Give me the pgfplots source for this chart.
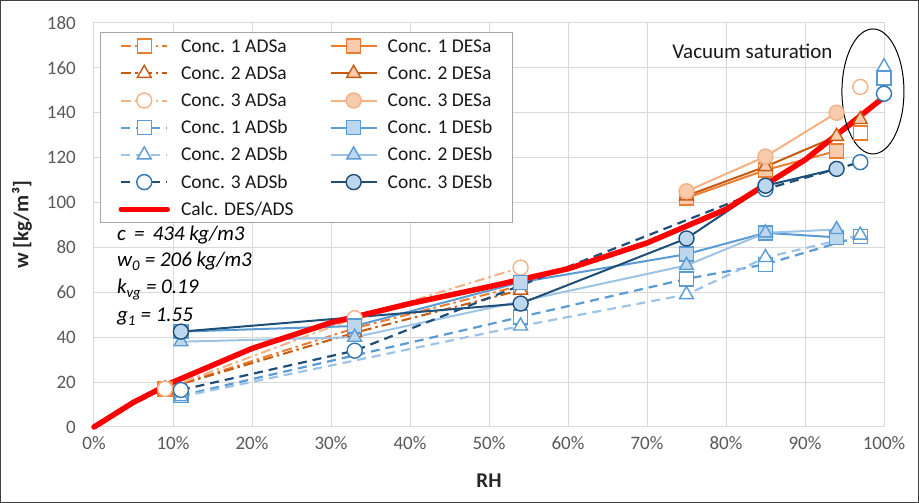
\documentclass[border=0pt]{standalone}
\usepackage{pgfplots}
\pgfplotsset{compat=1.18}
\usepackage{fontspec}
\setmainfont{Carlito}

% series colours
\definecolor{orA}{HTML}{ED7D31}
\definecolor{orB}{HTML}{C55A11}
\definecolor{orC}{HTML}{F4B183}
\definecolor{peach}{HTML}{F8CBAD}
\definecolor{blA}{HTML}{5B9BD5}
\definecolor{blB}{HTML}{9DC3E6}
\definecolor{blC}{HTML}{2E75B6}
\definecolor{navy}{HTML}{1F4E79}
\definecolor{bfill}{HTML}{BDD7EE}
\definecolor{gridgray}{HTML}{D9D9D9}
\definecolor{tickgray}{HTML}{595959}
\definecolor{legendgray}{HTML}{A6A6A6}

\pgfplotsset{
  adsa/.style={line width=2pt, dash pattern=on 10pt off 4pt on 2.5pt off 4pt},
  adsb/.style={line width=2.2pt, dash pattern=on 9pt off 6pt},
  des/.style={line width=2pt},
  sq/.style={mark=square*, mark size=7pt},
  tri/.style={mark=triangle*, mark size=8pt},
  circ/.style={mark=*, mark size=7.5pt},
}

\begin{document}
\begin{tikzpicture}[x=1pt,y=1pt]
\useasboundingbox (0,0) rectangle (919,503);
\begin{axis}[
  at={(94pt,76pt)}, anchor=south west,
  scale only axis, width=790pt, height=404pt,
  xmin=0, xmax=100, ymin=0, ymax=180,
  xtick={0,10,...,100}, ytick={0,20,...,180},
  xticklabels={0\%,10\%,20\%,30\%,40\%,50\%,60\%,70\%,80\%,90\%,100\%},
  /pgf/number format/assume math mode=true,
  grid=major, major grid style={draw=gridgray, line width=1pt},
  axis line style={draw=gridgray, line width=1pt},
  tick style={draw=none},
  tick label style={font=\fontsize{19}{22}\selectfont, text=tickgray},
  yticklabel style={anchor=east, inner sep=0pt, xshift=-18pt},
  xticklabel style={anchor=north, inner sep=0pt, yshift=-9pt},
  xlabel={RH}, ylabel={w [kg/m³]},
  label style={font=\fontsize{21}{24}\selectfont\bfseries, text=black!85},
  xlabel style={at={(axis description cs:0.5,-0.134)}, anchor=center},
  ylabel style={at={(axis description cs:-0.091,0.5)}, anchor=center},
  clip=false, unbounded coords=jump,
  legend columns=2, legend cell align=left,
  legend image code/.code={%
    \draw[mark repeat=2, mark phase=2, #1]
      plot coordinates {(0pt,0pt) (23pt,0pt) (46pt,0pt)};},
  legend style={
    at={(axis description cs:0.0076,0.9777)}, anchor=north west,
    draw=legendgray, line width=1pt, fill=white,
    font=\fontsize{19.5}{24}\selectfont, text=black!90,
    inner xsep=18pt, inner ysep=0pt, row sep=0pt,
    nodes={inner xsep=2pt, inner ysep=2pt, text height=17.5pt, text depth=5.7pt},
    /tikz/column 1/.style={column sep=9pt},
    /tikz/column 2/.style={column sep=34pt},
    /tikz/column 3/.style={column sep=8pt},
    /tikz/column 4/.style={column sep=-14pt},
  },
]
% adsorption (a) and desorption (a), three concentrations
\addplot[adsa, color=orA, sq, mark options={solid, fill=white, line width=1.4pt}]
  coordinates {(9,17) (33,44) (54,63) (97,nan) (97,131)};
\addlegendentry{Conc. 1 ADSa}
\addplot[des, color=orA, sq, mark options={fill=peach, line width=1.4pt}]
  coordinates {(75,102) (85,114.5) (94,123)};
\addlegendentry{Conc. 1 DESa}
\addplot[adsa, color=orB, tri, mark options={solid, fill=white, line width=1.4pt}]
  coordinates {(9,17) (33,42) (54,61)};
\addlegendentry{Conc. 2 ADSa}
\addplot[des, color=orB, tri, mark options={fill=peach, line width=1.4pt}]
  coordinates {(75,103) (85,116) (94,129.5) (97,137)};
\addlegendentry{Conc. 2 DESa}
\addplot[adsa, color=orC, circ, mark options={solid, fill=white, line width=1.4pt}]
  coordinates {(9,17) (33,48.5) (54,71) (97,nan) (97,151.5)};
\addlegendentry{Conc. 3 ADSa}
\addplot[des, color=orC, circ, mark options={fill=peach, line width=1.4pt}]
  coordinates {(75,105) (85,120.5) (94,140)};
\addlegendentry{Conc. 3 DESa}
% adsorption (b) and desorption (b)
\addplot[adsb, color=blA, sq, mark options={solid, fill=white, line width=1.4pt}]
  coordinates {(11,14) (54,49) (75,66) (85,72.5) (97,85) (100,nan) (100,155.5)};
\addlegendentry{Conc. 1 ADSb}
\addplot[des, color=blA, sq, mark options={fill=bfill, line width=1.4pt}]
  coordinates {(11,42.5) (33,45) (54,64.5) (75,77) (85,86.5) (94,84.5)};
\addlegendentry{Conc. 1 DESb}
\addplot[adsb, color=blB, tri, mark options={solid, draw=blA, fill=white, line width=1.4pt}]
  coordinates {(11,13.5) (54,45) (75,59) (85,75.5) (97,85.5) (100,nan) (100,160.5)};
\addlegendentry{Conc. 2 ADSb}
\addplot[des, color=blB, tri, mark options={draw=blA, fill=bfill, line width=1.4pt}]
  coordinates {(11,38) (33,40) (75,72) (85,86.5) (94,88)};
\addlegendentry{Conc. 2 DESb}
\addplot[adsb, color=navy, circ, mark options={solid, draw=blC, fill=white, line width=1.4pt}]
  coordinates {(11,16.5) (33,34) (85,106) (97,118) (100,nan) (100,148.5)};
\addlegendentry{Conc. 3 ADSb}
\addplot[des, color=navy, circ, mark options={fill=bfill, line width=1.4pt}]
  coordinates {(11,42.5) (54,55) (75,84) (85,107.5) (94,115)};
\addlegendentry{Conc. 3 DESb}
% fitted sorption curve
\addplot[red, line width=5.5pt, line join=round, line cap=round] coordinates {
  (0,0) (5,11) (10,20) (20,35) (30,46.5) (40,55) (50,62.5) (60,70.5)
  (70,82) (80,97) (90,119) (100,147)};
\addlegendentry{Calc. DES/ADS}

% model parameters
\begin{scope}[every node/.style={anchor=base west, font=\fontsize{21}{24}\selectfont\itshape, inner sep=0pt}]
\node at (axis cs:2.9,83.3) {c\,\ =\,\ 434 kg/m3};
\node at (axis cs:2.9,71.3) {w\textsubscript{0} = 206 kg/m3};
\node at (axis cs:2.9,59.3) {k\textsubscript{vg} = 0.19};
\node at (axis cs:2.9,46.8) {g\textsubscript{1} = 1.55};
\end{scope}
\node[anchor=base west, inner sep=0pt, font=\fontsize{21}{24}\selectfont, text=black!90]
  at (axis cs:73.2,164.4) {Vacuum saturation};
\draw[black, line width=1pt] (axis cs:98.6,149.5) ellipse [x radius=31pt, y radius=62.5pt];
\end{axis}
\draw[black!75, line width=1.2pt] (0.6,0.6) rectangle (918.4,502.4);
\end{tikzpicture}
\end{document}
